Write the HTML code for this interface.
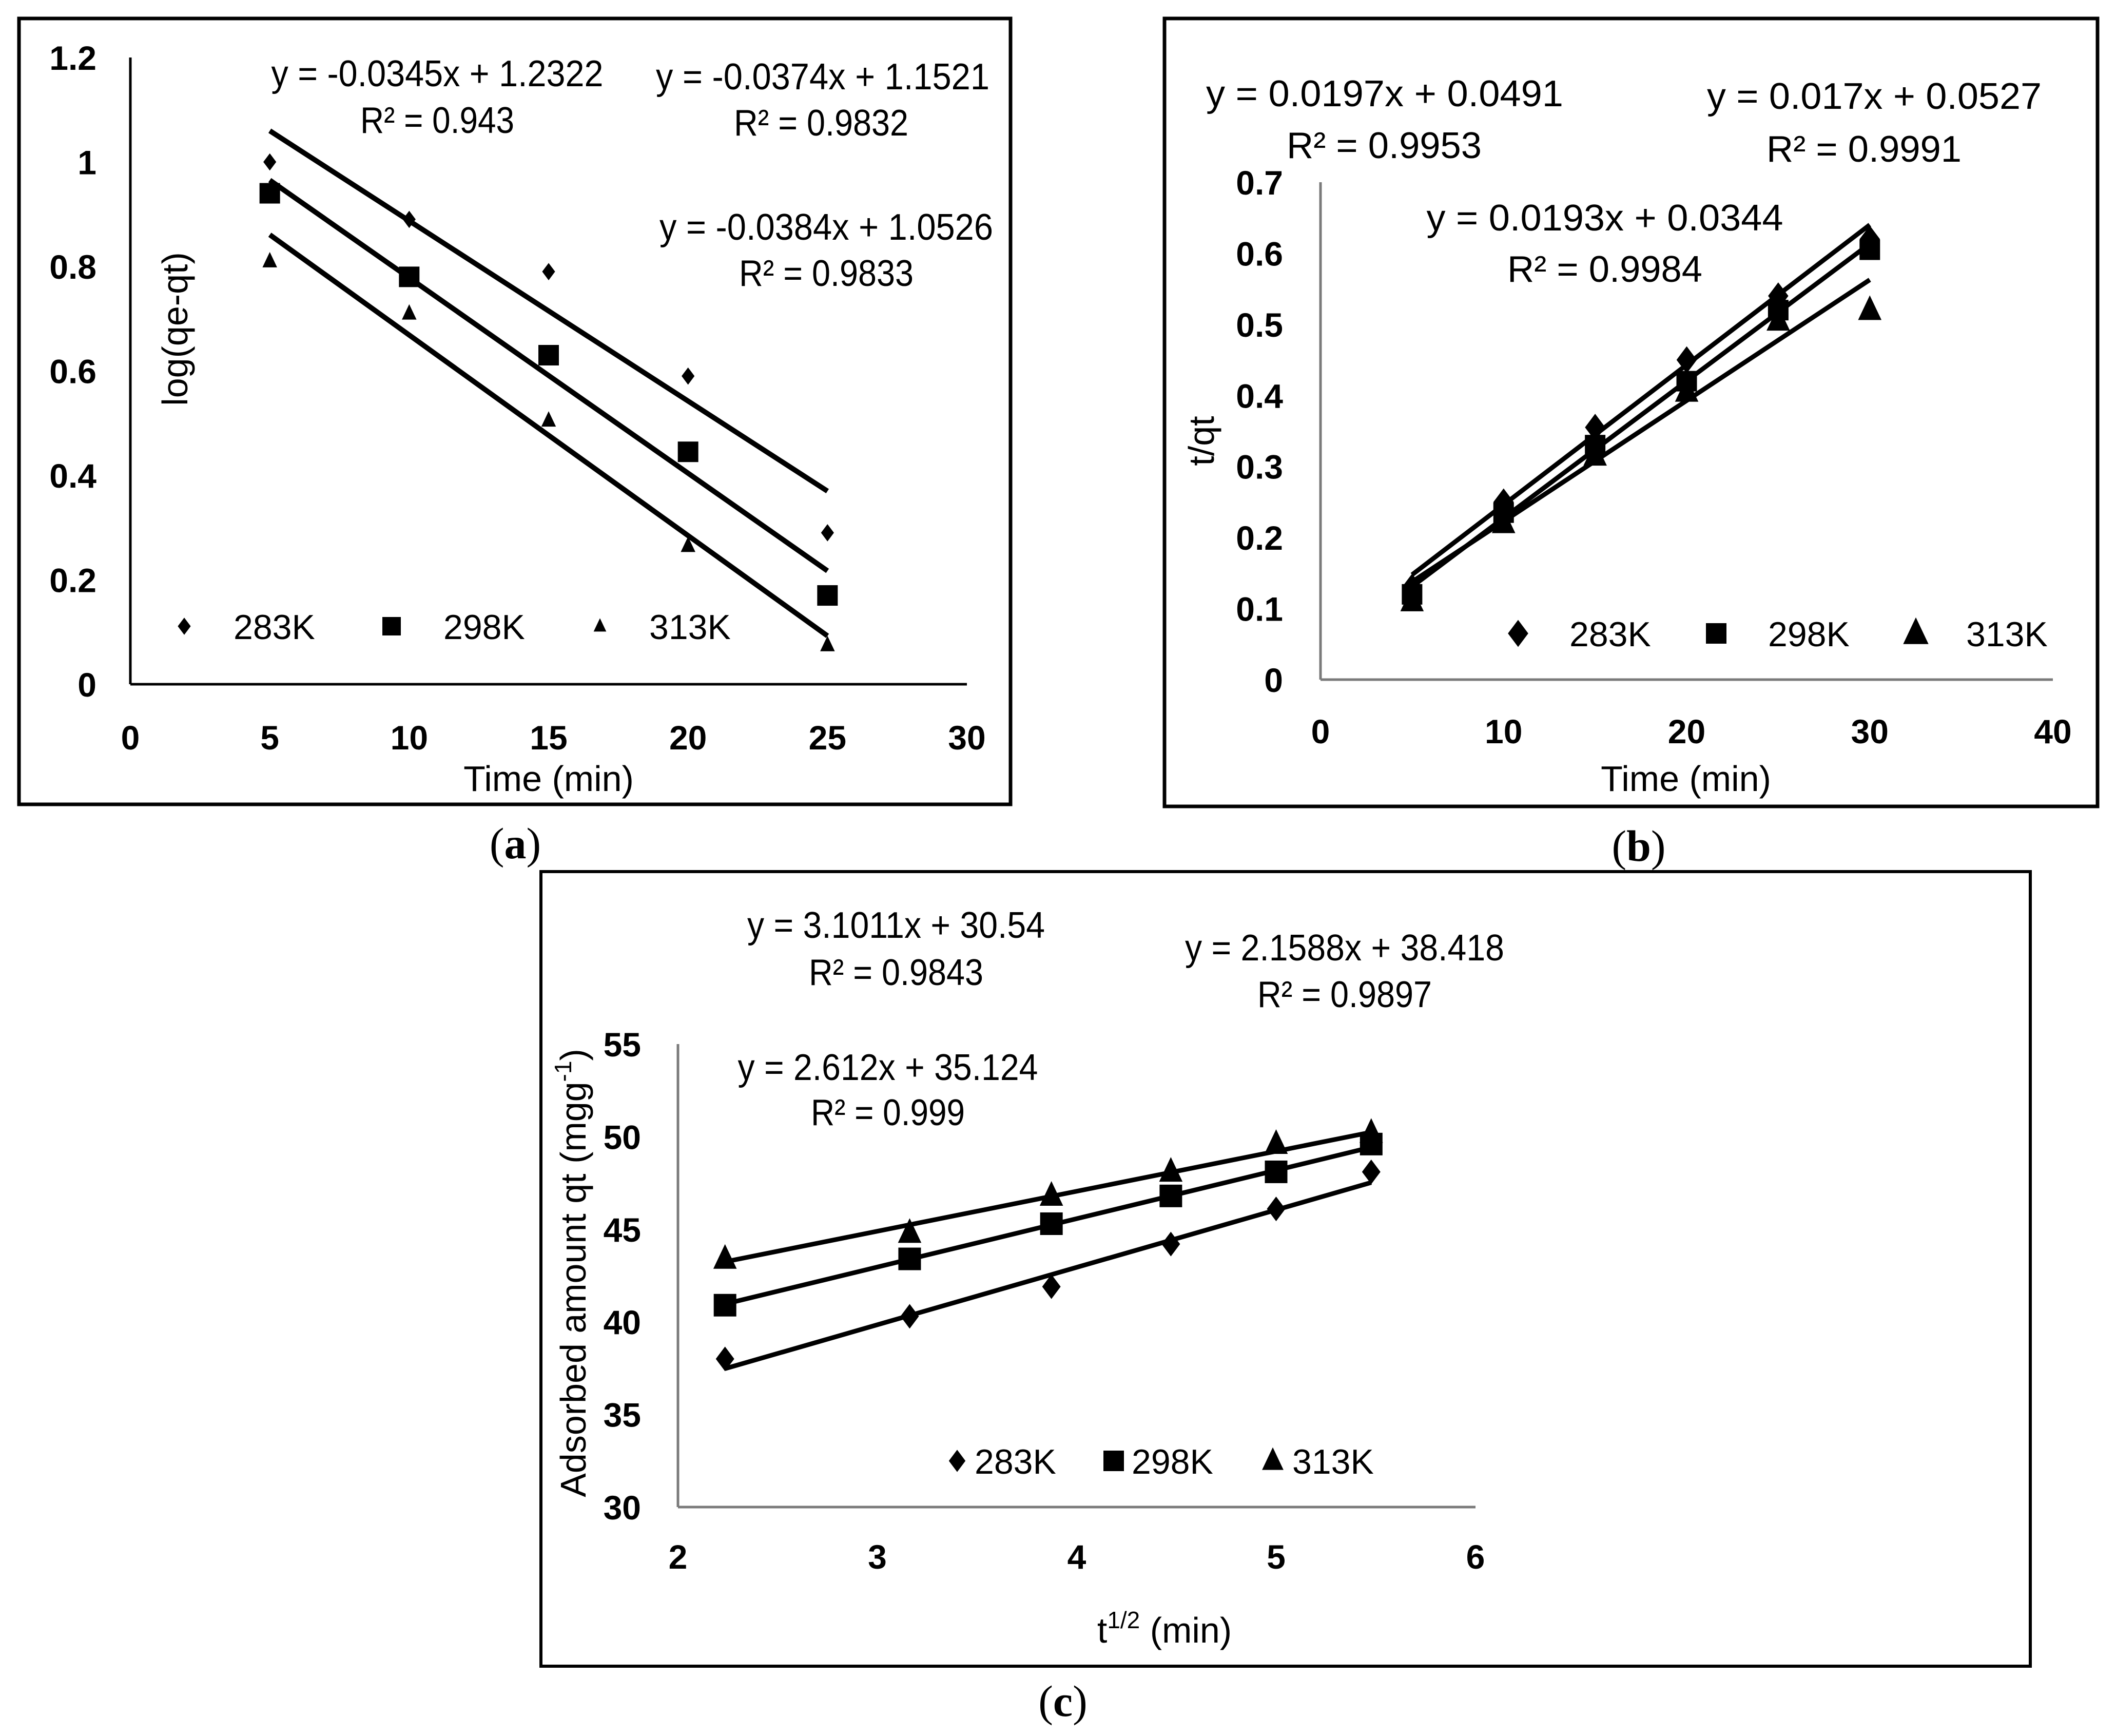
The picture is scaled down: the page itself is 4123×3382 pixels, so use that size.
<!DOCTYPE html>
<html><head><meta charset="utf-8"><style>
html,body{margin:0;padding:0;background:#fff;}
svg{display:block;}
text{font-family:"Liberation Sans",sans-serif;fill:#000;}
.tick{font-weight:bold;font-size:66px;}
.ann{font-size:72px;}
.leg{font-size:68px;}
.ttl{font-size:70px;}
.cap{font-family:"Liberation Serif",serif;font-size:86px;}
</style></head><body>
<svg id="fig" xmlns="http://www.w3.org/2000/svg" width="4123" height="3382" viewBox="0 0 4123 3382">
<rect x="0" y="0" width="4123" height="3382" fill="#fff"/>
<rect x="37" y="36" width="1932" height="1531" fill="none" stroke="#000" stroke-width="7"/>
<rect x="2269" y="36" width="1818" height="1535" fill="none" stroke="#000" stroke-width="7"/>
<rect x="1054" y="1698" width="2902" height="1548" fill="none" stroke="#000" stroke-width="6"/>
<text class="cap" x="1004" y="1672" text-anchor="middle">(<tspan font-weight="bold">a</tspan>)</text>
<text class="cap" x="3193" y="1677" text-anchor="middle">(<tspan font-weight="bold">b</tspan>)</text>
<text class="cap" x="2071" y="3343" text-anchor="middle">(<tspan font-weight="bold">c</tspan>)</text>
<g id="ga"></g><g id="gb"></g><g id="gc"></g>
</svg>
<script>
// ---------- Panel a data ----------
const aXTicks = [0,5,10,15,20,25,30];
const aYTicks = [0,0.2,0.4,0.6,0.8,1,1.2];
const aYTickLabels = ["0","0.2","0.4","0.6","0.8","1","1.2"];
const aX = [5,10,15,20,25];
const a283 = [1.0,0.89,0.79,0.59,0.29];
const a298 = [0.94,0.78,0.63,0.445,0.17];
const a313 = [0.81,0.71,0.505,0.265,0.075];
const aSlopes = [-0.0345,-0.0374,-0.0384];
const aIntercepts = [1.2322,1.1521,1.0526];
const aEqText = ["y = -0.0345x + 1.2322","y = -0.0374x + 1.1521","y = -0.0384x + 1.0526"];
const aR2Text = ["R² = 0.943","R² = 0.9832","R² = 0.9833"];
// ---------- Panel b data ----------
const bXTicks = [0,10,20,30,40];
const bYTicks = [0,0.1,0.2,0.3,0.4,0.5,0.6,0.7];
const bYTickLabels = ["0","0.1","0.2","0.3","0.4","0.5","0.6","0.7"];
const bX = [5,10,15,20,25,30];
const b283 = [0.13,0.25,0.355,0.45,0.54,0.62];
const b298 = [0.12,0.235,0.33,0.42,0.52,0.605];
const b313 = [0.11,0.22,0.315,0.405,0.505,0.52];
const bSlopes = [0.0197,0.0193,0.017];
const bIntercepts = [0.0491,0.0344,0.0527];
const bEqText = ["y = 0.0197x + 0.0491","y = 0.0193x + 0.0344","y = 0.017x + 0.0527"];
const bR2Text = ["R² = 0.9953","R² = 0.9984","R² = 0.9991"];
// ---------- Panel c data ----------
const cXTicks = [2,3,4,5,6];
const cYTicks = [30,35,40,45,50,55];
const cX = [2.236,3.162,3.873,4.472,5,5.477];
const c283 = [38,40.3,41.9,44.2,46.1,48.1];
const c298 = [40.9,43.4,45.3,46.8,48.1,49.6];
const c313 = [43.4,44.8,46.8,48.1,49.6,50.2];
const cSlopes = [3.1011,2.612,2.1588];
const cIntercepts = [30.54,35.124,38.418];
const cEqText = ["y = 3.1011x + 30.54","y = 2.612x + 35.124","y = 2.1588x + 38.418"];
const cR2Text = ["R² = 0.9843","R² = 0.999","R² = 0.9897"];

const NS="http://www.w3.org/2000/svg";
function mk(parent,tag,attrs){const e=document.createElementNS(NS,tag);for(const k in attrs)e.setAttribute(k,attrs[k]);parent.appendChild(e);return e;}
function marker(g,shape,cx,cy,s){
  let e;
  if(shape==='d'){e=mk(g,'polygon',{points:`${cx},${cy-s*1.2} ${cx+s*0.9},${cy} ${cx},${cy+s*1.2} ${cx-s*0.9},${cy}`,fill:'#000'});}
  else if(shape==='s'){e=mk(g,'rect',{x:cx-s,y:cy-s,width:2*s,height:2*s,fill:'#000'});}
  else {e=mk(g,'polygon',{points:`${cx},${cy-s*1.2} ${cx+s*0.95},${cy+s*0.8} ${cx-s*0.95},${cy+s*0.8}`,fill:'#000'});}
  return e;
}
function panel(cfg){
  const g=document.getElementById(cfg.id);
  const sx=v=>cfg.x0+(v-cfg.xmin)/(cfg.xmax-cfg.xmin)*(cfg.x1-cfg.x0);
  const sy=v=>cfg.y0-(v-cfg.ymin)/(cfg.ymax-cfg.ymin)*(cfg.y0-cfg.y1);
  let e;
  e=mk(g,'line',{x1:cfg.x0,y1:sy(cfg.ymax),x2:cfg.x0,y2:cfg.y0,stroke:cfg.axisColor,'stroke-width':cfg.axisW});
  
  
  e=mk(g,'line',{x1:cfg.x0,y1:cfg.y0,x2:sx(cfg.xmax),y2:cfg.y0,stroke:cfg.axisColor,'stroke-width':cfg.axisW});
  
  
  cfg.yTicks.forEach((v,i)=>{
    e=mk(g,'text',{x:cfg.yLabX,y:sy(v)+24,'text-anchor':'end',class:'tick'});
    e.textContent=cfg.yLabels?cfg.yLabels[i]:String(v);
    
    
  });
  cfg.xTicks.forEach(v=>{
    e=mk(g,'text',{x:sx(v),y:cfg.xLabY,'text-anchor':'middle',class:'tick'});
    e.textContent=String(v);
    
    
  });
  cfg.slopes.forEach((m,i)=>{
    const xa=cfg.X[0], xb=cfg.X[cfg.X.length-1];
    e=mk(g,'line',{x1:sx(xa),y1:sy(m*xa+cfg.ints[i]),x2:sx(xb),y2:sy(m*xb+cfg.ints[i]),stroke:'#000','stroke-width':cfg.lineW});
    
    
  });
  const shapes=['d','s','t'];
  cfg.series.forEach((arr,si)=>{
    arr.forEach((v,i)=>{
      e=marker(g,shapes[si],sx(cfg.X[i]),sy(v),cfg.msize[si]);
      
      
    });
  });
  cfg.legend.forEach((L,i)=>{
    e=marker(g,shapes[i],L.mx,cfg.legY,cfg.lsize[i]);
    
    
    e=mk(g,'text',{x:L.tx,y:cfg.legY+25,class:'leg'});
    e.textContent=cfg.names[i];
    
    
  });
  cfg.ann.forEach((A,i)=>{
    e=mk(g,'text',{x:A.cx,y:A.y1,'text-anchor':'middle',class:'ann',textLength:A.w,lengthAdjust:'spacingAndGlyphs'});
    e.textContent=cfg.eq[i];
    
    
    e=mk(g,'text',{x:A.cx2,y:A.y2,'text-anchor':'middle',class:'ann',textLength:A.w2,lengthAdjust:'spacingAndGlyphs'});
    e.textContent=cfg.r2[i];
    
    
  });
  e=mk(g,'text',{x:cfg.xtX,y:cfg.xtY,'text-anchor':'middle',class:'ttl','font-size':cfg.tfs});
  e.innerHTML=cfg.xTitle;
  
  
  e=mk(g,'text',{x:0,y:0,'text-anchor':'middle',class:'ttl','font-size':cfg.tfs,transform:`translate(${cfg.ytX},${cfg.ytY}) rotate(-90)`});
  e.innerHTML=cfg.yTitle;
  
  
}
panel({id:'ga',x0:254,x1:1884,xmin:0,xmax:30,y0:1333,y1:112,ymin:0,ymax:1.2,
  axisColor:'#000',axisW:5,lineW:10,xTicks:aXTicks,yTicks:aYTicks,yLabels:aYTickLabels,yLabX:188,xLabY:1460,
  X:aX,series:[a283,a298,a313],slopes:aSlopes,ints:aIntercepts,eq:aEqText,r2:aR2Text,
  names:['283K','298K','313K'],msize:[14,20,15],lsize:[14,18,13],legY:1220,
  legend:[{mx:359,tx:455},{mx:763,tx:864},{mx:1169,tx:1265}],
  ann:[{cx:852,y1:168,w:647,cx2:852,y2:259,w2:300},{cx:1603,y1:174,w:650,cx2:1600,y2:264,w2:340},{cx:1610,y1:467,w:650,cx2:1610,y2:557,w2:340}],
  tfs:70,xTitle:'Time (min)',xtX:1069,xtY:1541,yTitle:'log(qe-qt)',ytX:365,ytY:641});
panel({id:'gb',x0:2573,x1:4000,xmin:0,xmax:40,y0:1324,y1:355,ymin:0,ymax:0.7,
  axisColor:'#7a7a7a',axisW:5,lineW:9,xTicks:bXTicks,yTicks:bYTicks,yLabels:bYTickLabels,yLabX:2500,xLabY:1448,
  X:bX,series:[b283,b298,b313],slopes:bSlopes,ints:bIntercepts,eq:bEqText,r2:bR2Text,
  names:['283K','298K','313K'],msize:[22,20,24],lsize:[22,20,26],legY:1234,
  legend:[{mx:2958,tx:3058},{mx:3344,tx:3445},{mx:3733,tx:3831}],
  ann:[{cx:2698,y1:207,w:696,cx2:2697,y2:308,w2:380},{cx:3127,y1:449,w:695,cx2:3127,y2:549,w2:380},{cx:3652,y1:212,w:652,cx2:3632,y2:315,w2:380}],
  tfs:78,xTitle:'Time (min)',xtX:3285,xtY:1541,yTitle:'t/qt',ytX:2365,ytY:859});
panel({id:'gc',x0:1321,x1:2875,xmin:2,xmax:6,y0:2936,y1:2034,ymin:30,ymax:55,
  axisColor:'#7a7a7a',axisW:5,lineW:9,xTicks:cXTicks,yTicks:cYTicks,yLabX:1249,xLabY:3056,
  X:cX,series:[c283,c298,c313],slopes:cSlopes,ints:cIntercepts,eq:cEqText,r2:cR2Text,
  names:['283K','298K','313K'],msize:[20,22,24],lsize:[18,20,22],legY:2846,
  legend:[{mx:1865,tx:1899},{mx:2170,tx:2205},{mx:2480,tx:2518}],
  ann:[{cx:1746,y1:1827,w:580,cx2:1746,y2:1919,w2:340},{cx:1730,y1:2104,w:585,cx2:1730,y2:2192,w2:300},{cx:2620,y1:1871,w:622,cx2:2620,y2:1962,w2:340}],
  tfs:74,xTitle:'t<tspan font-size="46" dy="-28">1/2</tspan><tspan dy="28"> (min)</tspan>',xtX:2269,xtY:3200,
  yTitle:'Adsorbed amount qt (mgg<tspan font-size="46" dy="-28">-1</tspan><tspan dy="28">)</tspan>',ytX:1141,ytY:2480});
</script>
</body></html>
